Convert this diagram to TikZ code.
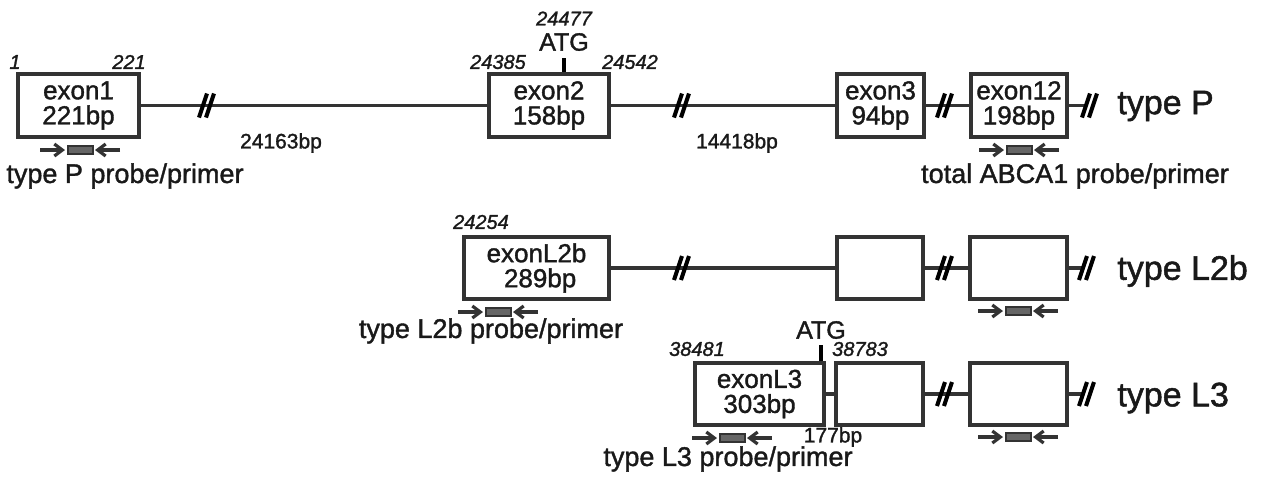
\documentclass[tikz,border=0pt]{standalone}
\usepackage{fontspec}
\setmainfont{Liberation Sans}[FakeBold=1.4]
\usetikzlibrary{arrows.meta}
\definecolor{ink}{gray}{0.1}
\definecolor{stroke}{gray}{0.2}
\definecolor{pfill}{gray}{0.4}
\begin{document}
\begin{tikzpicture}[x=0.5pt,y=-0.5pt,
  exon/.style={draw=stroke,line width=2.1pt,fill=white,inner sep=0pt,minimum height=31.5pt,align=center,text=ink,font=\fontsize{13}{12.5}\selectfont},
  intron/.style={draw=stroke,line width=1.8pt},
  num/.style={font=\fontsize{10}{12}\selectfont\itshape,text=ink,inner sep=0pt},
  bp/.style={font=\fontsize{10.5}{12}\selectfont,text=ink,inner sep=0pt},
  atg/.style={font=\fontsize{12.5}{14}\selectfont,text=ink,inner sep=0pt},
  probe/.style={font=\fontsize{13.5}{15}\selectfont,text=ink,inner sep=0pt},
  typelab/.style={font=\fontsize{17}{19}\selectfont,text=ink,inner sep=0pt,anchor=west},
  pr/.style={draw=stroke,line width=1.6pt,-{Straight Barb[length=4pt,width=6pt]}},
  primer/.pic={\draw[pr] (-40,0) -- (-15,0); \draw[pr] (40,0) -- (15,0);
    \filldraw[fill=pfill,draw=stroke,line width=0.8pt] (-12,-4) rectangle (13,4);},
  brk/.pic={\draw[stroke,line width=2pt] (-8,12) -- (0,-12); \draw[stroke,line width=2pt] (-1,12) -- (7,-12);},
]
\useasboundingbox (0,0) rectangle (1271,478);

% ---------- type P ----------
\node[exon,minimum width=60.5pt] (e1) at (78.5,105.5) {exon1\\221bp};
\node[exon,minimum width=60pt] (e2) at (549,105.5) {exon2\\158bp};
\node[exon,minimum width=43.5pt] (e3) at (880.5,105.5) {exon3\\94bp};
\node[exon,minimum width=48pt] (e12) at (1019,105.5) {exon12\\198bp};
\coordinate (pend) at (1086,105.5);
\draw[intron] (e1.east) -- (e2.west);
\draw[intron] (e2.east) -- (e3.west);
\draw[intron] (e3.east) -- (e12.west);
\draw[intron] (e12.east) -- (pend);
\pic at (207,105.5) {brk};
\pic at (682,105.5) {brk};
\pic at (945,105.5) {brk};
\pic at (1090,105.5) {brk};

\node[num] (n1) at (15,62) {1};
\node[num] (n221) at (129,62) {221};
\node[num] (n24385) at (498,62) {24385};
\node[num] (n24542) at (630,62) {24542};
\node[num] (n24477) at (564,18.5) {24477};
\node[atg] (atgP) at (564,42) {ATG};
\coordinate (tP) at (564,58);
\draw[stroke,line width=1.8pt] (tP) -- (tP |- e2.north);
\node[bp] (b1) at (281,143) {24163bp};
\node[bp] (b2) at (737,143) {14418bp};
\pic at (80,150) {primer};
\pic at (1019,150) {primer};
\node[probe] (lp) at (125,176) {type P probe/primer};
\node[probe] (lt) at (1075,176) {total ABCA1 probe/primer};
\node[typelab] (tyP) at (1117,106) {type P};

% ---------- type L2b ----------
\node[exon,minimum width=72.5pt,minimum height=31pt] (l2) at (536.5,268) {exonL2b\\\ 289bp};
\node[exon,minimum width=43pt,minimum height=31pt] (l23) at (880,268) {};
\node[exon,minimum width=48.5pt,minimum height=31pt] (l212) at (1018.5,268) {};
\coordinate (l2end) at (1083,268);
\draw[intron] (l2.east) -- (l23.west);
\draw[intron] (l23.east) -- (l212.west);
\draw[intron] (l212.east) -- (l2end);
\pic at (682,268) {brk};
\pic at (945,268) {brk};
\pic at (1087,268) {brk};
\node[num] (n24254) at (481,222) {24254};
\pic at (498,312) {primer};
\pic at (1018,311) {primer};
\node[probe] (ll2) at (491,331) {type L2b probe/primer};
\node[typelab] (tyL2) at (1117,271) {type L2b};

% ---------- type L3 ----------
\node[exon,minimum width=64.5pt,minimum height=31pt] (l3) at (759.5,394) {exonL3\\303bp};
\node[exon,minimum width=43.5pt,minimum height=31pt] (l33) at (879.5,394) {};
\node[exon,minimum width=48.5pt,minimum height=31pt] (l312) at (1018.5,394) {};
\coordinate (l3end) at (1083,394);
\draw[intron] (l3.east) -- (l33.west);
\draw[intron] (l33.east) -- (l312.west);
\draw[intron] (l312.east) -- (l3end);
\pic at (945,394) {brk};
\pic at (1087,394) {brk};
\node[num] (n38481) at (697,349) {38481};
\node[num] (n38783) at (860,349) {38783};
\node[atg] (atgL) at (821,330) {ATG};
\coordinate (tL) at (821,345);
\draw[stroke,line width=1.8pt] (tL) -- (tL |- l3.north);
\node[bp] (b3) at (833,437) {177bp};
\pic at (732,438) {primer};
\pic at (1018,437) {primer};
\node[probe] (ll3) at (728,459) {type L3 probe/primer};
\node[typelab] (tyL3) at (1117,398) {type L3};
\end{tikzpicture}
\end{document}
